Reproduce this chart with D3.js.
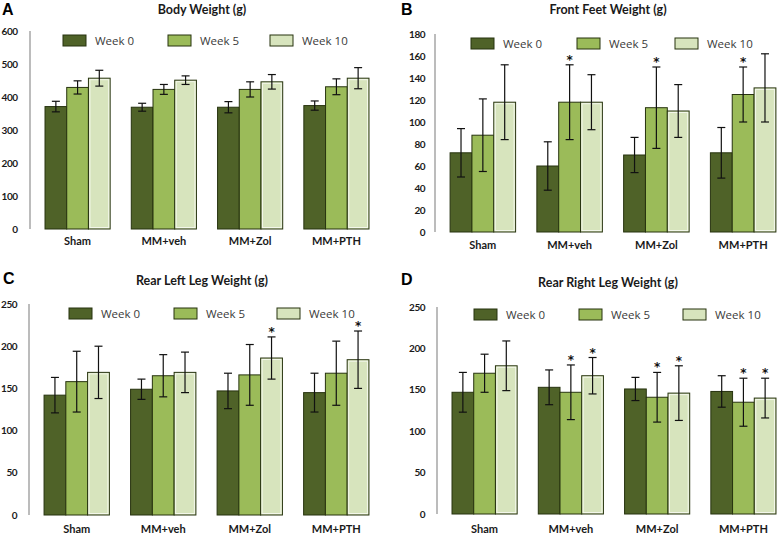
<!DOCTYPE html>
<html><head><meta charset="utf-8">
<script src="https://cdn.jsdelivr.net/npm/d3@7"></script>
<style>html,body{margin:0;padding:0;background:#fff;}svg{display:block;}</style>
</head><body>
<svg id="chart" width="778" height="534"></svg>
<script>
// ---------- data ----------
const categories = ["Sham", "MM+veh", "MM+Zol", "MM+PTH"];
const weeks = ["Week 0", "Week 5", "Week 10"];
const colors = ["#4f6228", "#9bbb59", "#d7e4bd"];

// per category: [Week 0, Week 5, Week 10]
const bodyMean  = [[371, 429, 457], [369, 423, 451], [369, 423, 446], [374, 431, 457]];
const bodyErr   = [[16, 20, 24], [12, 15, 13], [17, 23, 22], [14, 24, 32]];
const bodyStar  = [[0,0,0],[0,0,0],[0,0,0],[0,0,0]];
const bodyTicks = [0, 100, 200, 300, 400, 500, 600];

const frontMean  = [[72, 88, 118], [60, 118, 118], [70, 113, 110], [72, 125, 131]];
const frontErr   = [[22, 33, 34], [22, 34, 25], [16, 37, 24], [23, 25, 31]];
const frontStar  = [[0,0,0],[0,1,0],[0,1,0],[0,1,0]];
const frontTicks = [0, 20, 40, 60, 80, 100, 120, 140, 160, 180];

const leftMean  = [[142, 158, 169], [149, 165, 169], [147, 166, 186], [145, 168, 184]];
const leftErr   = [[21, 36, 31], [12, 25, 24], [21, 36, 25], [23, 38, 34]];
const leftStar  = [[0,0,0],[0,0,0],[0,0,1],[0,0,1]];
const leftTicks = [0, 50, 100, 150, 200, 250];

const rightMean  = [[147, 170, 179], [153, 147, 167], [151, 141, 146], [148, 135, 140]];
const rightErr   = [[24, 23, 30], [21, 33, 22], [14, 30, 33], [19, 29, 24]];
const rightStar  = [[0,0,0],[0,1,1],[0,1,1],[0,1,1]];
const rightTicks = [0, 50, 100, 150, 200, 250];

const titles  = ["Body Weight (g)", "Front Feet Weight (g)", "Rear Left Leg Weight (g)", "Rear Right Leg Weight (g)"];
const letters = ["A", "B", "C", "D"];

// ---------- layout ----------
const panels = [
  {mean: bodyMean,  err: bodyErr,  star: bodyStar,  ticks: bodyTicks,  max: 600,
   axisX: 30, tickX: 17.5, y0: 229, yTop: 31, xEnd: 384, letterX: 2, letterY: 15, titleX: 202, titleY: 14,
   legY: 35, legX: [63, 168, 270], catY: 245},
  {mean: frontMean, err: frontErr, star: frontStar, ticks: frontTicks, max: 180,
   axisX: 435, tickX: 425, y0: 232, yTop: 34, xEnd: 791, letterX: 401, letterY: 15, titleX: 608, titleY: 14,
   legY: 38, legX: [471, 577, 675], catY: 249},
  {mean: leftMean,  err: leftErr,  star: leftStar,  ticks: leftTicks,  max: 250,
   axisX: 29, tickX: 17, y0: 515, yTop: 304, xEnd: 384, letterX: 3, letterY: 284, titleX: 202, titleY: 285,
   legY: 308, legX: [69, 174, 277], catY: 533},
  {mean: rightMean, err: rightErr, star: rightStar, ticks: rightTicks, max: 250,
   axisX: 437, tickX: 425, y0: 514, yTop: 307, xEnd: 791, letterX: 401, letterY: 285, titleX: 608, titleY: 287,
   legY: 309, legX: [474, 579, 683], catY: 533}
];

const svg = d3.select("#chart");
const labelFont = "Lato, 'Open Sans', sans-serif";
const legendFont = "'Open Sans', 'Noto Sans', sans-serif";

panels.forEach((p, pi) => {
  const g = svg.append("g");
  const x = d3.scaleBand().domain(categories).range([p.axisX, p.xEnd]).paddingInner(0.245).paddingOuter(0.174);
  const xs = d3.scaleBand().domain(weeks).range([0, x.bandwidth()]);
  const y = d3.scaleLinear().domain([0, p.max]).range([p.y0, p.yTop]);

  // y axis line
  g.append("line").attr("x1", p.axisX).attr("x2", p.axisX).attr("y1", p.yTop).attr("y2", p.y0)
    .attr("stroke", "#a6a6a6").attr("stroke-width", 1.5);
  // tick labels
  g.selectAll("text.tick").data(p.ticks).enter().append("text")
    .attr("x", p.tickX).attr("y", d => y(d)).attr("dy", "0.35em")
    .attr("text-anchor", "end").attr("font-family", labelFont).attr("font-weight", "bold")
    .attr("font-size", 10).attr("letter-spacing", -0.5).attr("fill", "#1a1a1a").text(d => d);

  // bars
  categories.forEach((c, ci) => {
    weeks.forEach((w, wi) => {
      const v = p.mean[ci][wi], e = p.err[ci][wi];
      const bx = x(c) + xs(w), bw = xs.bandwidth();
      g.append("rect").attr("x", bx).attr("y", y(v)).attr("width", bw).attr("height", y(0) - y(v))
        .attr("fill", colors[wi]).attr("stroke", "#27330f").attr("stroke-width", 1);
      if (wi === 2) {
        g.append("rect").attr("x", bx + 1.5).attr("y", y(v) + 1.5).attr("width", bw - 3).attr("height", y(0) - y(v) - 3)
          .attr("fill", "none").attr("stroke", "#f3f7ea").attr("stroke-width", 1);
      }
      const cx = bx + bw / 2;
      g.append("line").attr("x1", cx).attr("x2", cx).attr("y1", y(v + e)).attr("y2", y(v - e))
        .attr("stroke", "#111").attr("stroke-width", 1.2);
      [v + e, v - e].forEach(t => {
        g.append("line").attr("x1", cx - 4).attr("x2", cx + 4).attr("y1", y(t)).attr("y2", y(t))
          .attr("stroke", "#111").attr("stroke-width", 1.2);
      });
      if (p.star[ci][wi]) {
        g.append("text").attr("x", cx).attr("y", y(v + e) - 1).attr("text-anchor", "middle")
          .attr("font-family", "'DejaVu Sans', sans-serif").attr("font-weight", "bold")
          .attr("font-size", 12).attr("fill", "#111").text("*");
      }
    });
    g.append("text").attr("x", x(c) + x.bandwidth() / 2).attr("y", p.catY).attr("text-anchor", "middle")
      .attr("font-family", labelFont).attr("font-weight", "bold").attr("font-size", 11)
      .attr("fill", "#1a1a1a").text(c);
  });

  // legend
  weeks.forEach((w, wi) => {
    g.append("rect").attr("x", p.legX[wi]).attr("y", p.legY).attr("width", 23).attr("height", 11)
      .attr("fill", colors[wi]).attr("stroke", "#27330f").attr("stroke-width", 1);
    g.append("text").attr("x", p.legX[wi] + 32).attr("y", p.legY + 9.5)
      .attr("font-family", legendFont).attr("font-size", 11.5).attr("fill", "#3a3a3a")
      .text(w);
  });

  // title and letter
  g.append("text").attr("x", p.titleX).attr("y", p.titleY).attr("text-anchor", "middle")
    .attr("font-family", labelFont).attr("font-weight", "bold").attr("font-size", 12.5)
    .attr("fill", "#1a1a1a").text(titles[pi]);
  g.append("text").attr("x", p.letterX).attr("y", p.letterY)
    .attr("font-family", "'Liberation Sans', Arial, sans-serif").attr("font-weight", "bold")
    .attr("font-size", 16).attr("fill", "#000").text(letters[pi]);
});
</script>
</body></html>
